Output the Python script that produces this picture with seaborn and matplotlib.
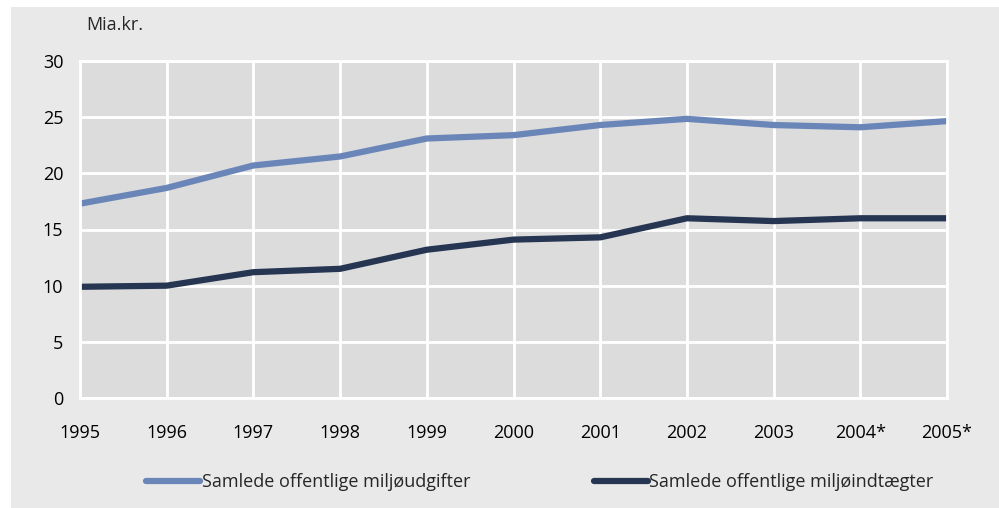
import matplotlib
matplotlib.use("Agg")
import matplotlib.pyplot as plt
import seaborn as sns
import pandas as pd
from matplotlib.patches import Rectangle

# data (Mia.kr.)
years = ["1995", "1996", "1997", "1998", "1999", "2000", "2001", "2002", "2003", "2004*", "2005*"]
udgifter = [17.3, 18.7, 20.7, 21.5, 23.1, 23.4, 24.3, 24.85, 24.3, 24.1, 24.65]
indtaegter = [9.9, 10.0, 11.2, 11.5, 13.2, 14.1, 14.3, 16.0, 15.75, 16.0, 16.0]
labels = ["Samlede offentlige miljøudgifter", "Samlede offentlige miljøindtægter"]
colors = ["#6a86b8", "#263552"]

df = pd.DataFrame({"year": years, labels[0]: udgifter, labels[1]: indtaegter})
long = df.melt(id_vars="year", var_name="serie", value_name="value")
long["pos"] = long["year"].map({y: i for i, y in enumerate(years)})

sns.set_style("darkgrid")
plt.rcParams["font.family"] = ["Open Sans", "DejaVu Sans"]

fig = plt.figure(figsize=(9.99, 5.08), dpi=100, facecolor="white")
# grey background panel with white strip on left and top
fig.patches.append(Rectangle((11 / 999, 0), 1, 1 - 7 / 508, transform=fig.transFigure,
                             facecolor="#e9e9e9", edgecolor="none", zorder=-1))

ax = fig.add_axes([80 / 999, 1 - 398 / 508, (947 - 80) / 999, (398 - 61) / 508])
ax.set_facecolor("#dcdcdc")

sns.lineplot(data=long, x="pos", y="value", hue="serie", palette=colors,
             linewidth=4.5, ax=ax, legend=False, sort=False)

ax.set_xlim(0, 10)
ax.set_ylim(0, 30)
ax.set_xticks(range(len(years)))
ax.set_xticklabels(years)
ax.set_yticks(range(0, 31, 5))
ax.grid(True, color="white", linewidth=2)
for s in ax.spines.values():
    s.set_visible(True)
    s.set_color("white")
    s.set_linewidth(2)
ax.tick_params(axis="both", length=0, labelsize=13, colors="black")
ax.tick_params(axis="x", pad=19)
ax.tick_params(axis="y", pad=12)
ax.set_xlabel("")
ax.set_ylabel("")

fig.text(86 / 999, 1 - 25 / 508, "Mia.kr.", fontsize=13, va="center", ha="left")

handles = [plt.Line2D([], [], color=c, linewidth=4.5, solid_capstyle="round") for c in colors]
fig.legend(handles, labels, loc="center", bbox_to_anchor=(540 / 999, 1 - 482 / 508), ncol=2,
           frameon=False, fontsize=13, handlelength=3, handletextpad=0.1, columnspacing=6.8)

fig.savefig("out.png", dpi=100, facecolor=fig.get_facecolor())
